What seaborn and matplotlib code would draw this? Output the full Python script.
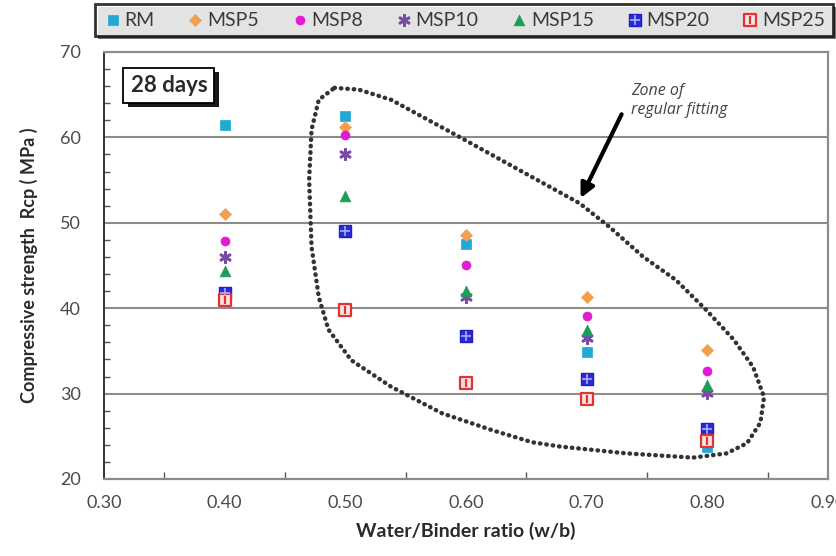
import numpy as np
import pandas as pd
import matplotlib
matplotlib.use("Agg")
import matplotlib.pyplot as plt
import matplotlib.patheffects as pe
from matplotlib.ticker import MultipleLocator, FixedLocator
from matplotlib.legend_handler import HandlerTuple
import seaborn as sns

# Water/binder ratios and 28-day compressive strengths (MPa)
wb = [0.40, 0.50, 0.60, 0.70, 0.80]
RM = [61.5, 62.5, 47.5, 34.9, 23.8]
MSP5 = [51.0, 61.2, 48.6, 41.3, 35.1]
MSP8 = [47.9, 60.3, 45.1, 39.1, 32.6]
MSP10 = [46.0, 58.1, 41.3, 36.5, 30.1]
MSP15 = [44.4, 53.1, 42.0, 37.4, 31.0]
MSP20 = [41.8, 49.0, 36.7, 31.7, 25.8]
MSP25 = [41.0, 39.8, 31.2, 29.4, 24.5]

mixes = ["RM", "MSP5", "MSP8", "MSP10", "MSP15", "MSP20", "MSP25"]
series = [RM, MSP5, MSP8, MSP10, MSP15, MSP20, MSP25]

# Outline of the "regular fitting" zone (w/b, MPa)
zone_x = [0.491, 0.511, 0.538, 0.594, 0.649, 0.694, 0.719, 0.747, 0.774, 0.799,
          0.822, 0.838, 0.847, 0.844, 0.833, 0.816, 0.788, 0.733, 0.678, 0.655,
          0.622, 0.580, 0.538, 0.505, 0.486, 0.478, 0.472, 0.470, 0.472, 0.478, 0.491]
zone_y = [65.8, 65.6, 64.4, 60.1, 55.8, 52.3, 49.5, 46.0, 43.3, 39.8,
          36.3, 33.1, 29.6, 26.6, 24.2, 23.0, 22.5, 23.0, 23.8, 24.3,
          25.7, 27.7, 30.8, 33.9, 37.5, 41.3, 47.2, 55.0, 60.9, 64.4, 65.8]

df = pd.DataFrame({
    "wb": np.tile(wb, len(mixes)),
    "strength": np.concatenate(series),
    "mix": np.repeat(mixes, len(wb)),
})

sns.set_theme(style="white")
plt.rcParams["font.family"] = ["Lato", "DejaVu Sans"]

fig = plt.figure(figsize=(8.36, 5.56), dpi=100)
ax = fig.add_axes([0.1244, 0.1385, 0.866, 0.768])

styles = {
    "RM":    dict(marker="s", s=55, color="#21a9d6", edgecolor="#21a9d6", linewidth=0.5),
    "MSP5":  dict(marker="D", s=38, color="#f2a04e", edgecolor="#f2a04e", linewidth=0.5),
    "MSP8":  dict(marker="o", s=42, color="#e01cd2", edgecolor="#e01cd2", linewidth=0.5),
    "MSP10": dict(marker=(6, 2, 0), s=55, color="#7a4aa8", edgecolor="#7a4aa8", linewidth=2.0),
    "MSP15": dict(marker="^", s=60, color="#1e9c5a", edgecolor="#1e9c5a", linewidth=0.5),
    "MSP20": dict(marker="s", s=80, color="#2b2bd6", edgecolor="#2020c0", linewidth=1.0),
    "MSP25": dict(marker="s", s=80, color="#fbe3e3", edgecolor="#e03434", linewidth=1.6),
}
inner = {
    "MSP20": dict(marker="+", s=45, color="#a9a9ff", linewidth=1.2),
    "MSP25": dict(marker="|", s=40, color="#e03434", linewidth=1.6),
}

handles = []
for mix in mixes:
    sub = df[df["mix"] == mix]
    st = styles[mix]
    sns.scatterplot(data=sub, x="wb", y="strength", ax=ax, marker=st["marker"],
                    s=st["s"], color=st["color"], edgecolor=st["edgecolor"],
                    linewidth=st["linewidth"], zorder=4, legend=False)
    h = ax.collections[-1]
    if mix in inner:
        ist = inner[mix]
        ax.scatter(sub["wb"], sub["strength"], marker=ist["marker"], s=ist["s"],
                   color=ist["color"], linewidths=ist["linewidth"], zorder=5)
        handles.append((h, ax.collections[-1]))
    else:
        handles.append(h)

# axes limits and ticks
ax.set_xlim(0.30, 0.90)
ax.set_ylim(20, 70)
ax.xaxis.set_major_locator(FixedLocator([0.30, 0.40, 0.50, 0.60, 0.70, 0.80, 0.90]))
ax.xaxis.set_minor_locator(MultipleLocator(0.05))
ax.yaxis.set_major_locator(MultipleLocator(10))
ax.yaxis.set_minor_locator(MultipleLocator(2))
ax.set_xticklabels(["0.30", "0.40", "0.50", "0.60", "0.70", "0.80", "0.90"])

ax.tick_params(axis="x", which="major", direction="inout", length=11, width=1.2,
               color="#555555", pad=6, labelsize=13, labelcolor="#4a4a4a")
ax.tick_params(axis="x", which="minor", direction="in", length=5, width=1.0,
               color="#555555", bottom=True)
ax.tick_params(axis="y", which="major", direction="inout", length=9, width=1.2,
               color="#333333", pad=12, labelsize=13, labelcolor="#4a4a4a")
ax.tick_params(axis="y", which="minor", direction="in", length=4, width=1.0,
               color="#555555", left=True)

# horizontal gridlines
for g in [30, 40, 50, 60]:
    ax.axhline(g, color="#8c8c8c", lw=1.5, zorder=1)

for side in ["top", "right", "bottom"]:
    ax.spines[side].set_color("#8c8c8c")
    ax.spines[side].set_linewidth(1.6)
ax.spines["left"].set_color("#333333")
ax.spines["left"].set_linewidth(1.4)

ax.set_xlabel("Water/Binder ratio (w/b)", fontsize=14, fontweight="bold",
              color="#2a2a2a", labelpad=8)
ax.set_ylabel("Compressive strength  Rcp ( MPa )", fontsize=13, fontweight="bold",
              color="#2a2a2a", labelpad=16)

# zone outline
ax.plot(zone_x, zone_y, color="#333333", lw=3.2, linestyle=(0, (0.1, 1.35)),
        dash_capstyle="round", zorder=3)

# arrow and label
ax.annotate("", xy=(0.694, 52.6), xytext=(0.730, 63.0),
            arrowprops=dict(arrowstyle="-|>,head_length=0.7,head_width=0.35",
                            color="black", lw=3), zorder=6)
ax.text(0.737, 66.4, "Zone of\nregular fitting", fontsize=11.5, style="italic",
        color="#444444", va="top", ha="left", linespacing=1.25,
        family=["Open Sans", "DejaVu Sans"])

# age label
t = ax.text(0.322, 66.1, "28 days", fontsize=16, fontweight="bold", color="#2a2a2a",
            va="center", ha="left", zorder=7,
            bbox=dict(boxstyle="square,pad=0.32", facecolor="white",
                      edgecolor="black", linewidth=1.3))
t.get_bbox_patch().set_path_effects([
    pe.SimplePatchShadow(offset=(3, -3), shadow_rgbFace="black", alpha=0.9),
    pe.Normal()])

# legend across the top
leg = fig.legend(handles, mixes, loc="center", bbox_to_anchor=(0.555, 0.964),
                 ncol=7, frameon=True, fontsize=14, handletextpad=0.1,
                 columnspacing=1.6, handlelength=1.0, borderpad=0.4,
                 handler_map={tuple: HandlerTuple(ndivide=1, pad=0)},
                 fancybox=False, labelcolor="#3a3a3a")
leg.get_frame().set_edgecolor("black")
leg.get_frame().set_linewidth(2.0)
leg.get_frame().set_path_effects([
    pe.SimplePatchShadow(offset=(2, -2), shadow_rgbFace="#555555", alpha=0.8),
    pe.Normal()])

fig.savefig("out.png", dpi=100, facecolor="white")
